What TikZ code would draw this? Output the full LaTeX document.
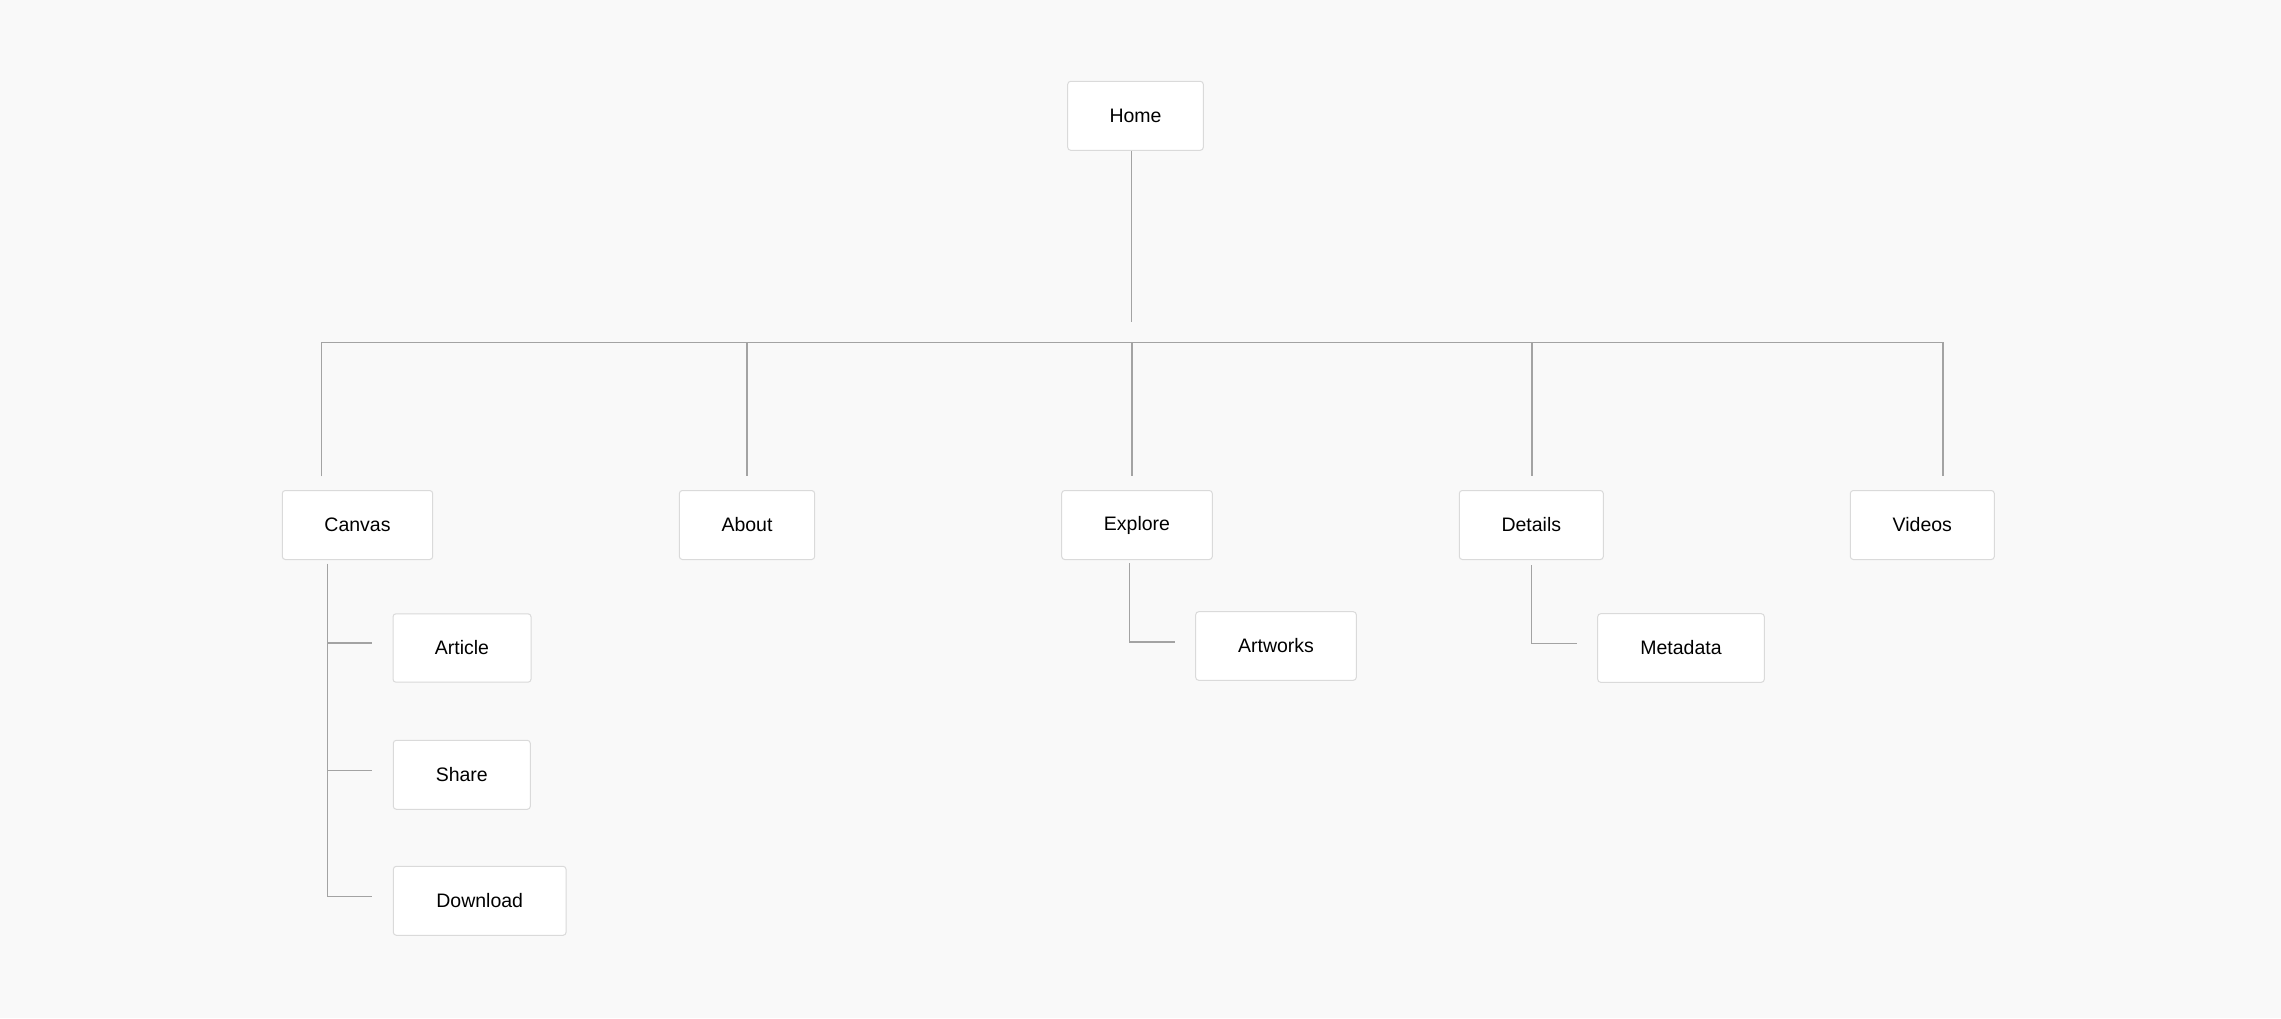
\documentclass[tikz,border=0pt]{standalone}
\usepackage{fontspec}
\setmainfont{Liberation Sans}
\definecolor{bg}{HTML}{F9F9F9}
\definecolor{boxline}{HTML}{DADADA}
\definecolor{conn}{HTML}{A3A3A3}
\begin{document}
\begin{tikzpicture}[x=1pt,y=-1pt,
  page/.style={draw=boxline, line width=1pt, fill=white, rounded corners=3pt,
    minimum height=69pt, inner sep=0pt, font=\fontsize{19.5}{22}\selectfont, text=black},
  link/.style={draw=conn, line width=1.5pt}]
\fill[bg] (0,0) rectangle (2281,1018);
\useasboundingbox (0,0) rectangle (2281,1018);
% nodes
\node[page, minimum width=135.6pt] (home) at (1135.5,115.8) {Home};
\node[page, minimum width=150.4pt] (canvas) at (357.5,525) {Canvas};
\node[page, minimum width=135.3pt] (about) at (747,525) {About};
\node[page, minimum width=150.6pt] (explore) at (1137,525) {Explore};
\node[page, minimum width=144pt] (details) at (1531.3,525) {Details};
\node[page, minimum width=144pt] (videos) at (1922.3,525) {Videos};
\node[page, minimum width=138pt, minimum height=68.4pt] (article) at (462,648) {Article};
\node[page, minimum width=137pt] (share) at (461.8,774.8) {Share};
\node[page, minimum width=172.7pt] (download) at (479.7,900.8) {Download};
\node[page, minimum width=160.6pt, minimum height=68.6pt] (artworks) at (1276,646) {Artworks};
\node[page, minimum width=166.6pt, minimum height=68.6pt] (metadata) at (1681,648) {Metadata};
% coordinates
\coordinate (stemtop) at (1131.7,151);
\coordinate (stembot) at (1131.7,321.5);
\coordinate (barL) at (321.3,342.7);
\coordinate (barR) at (1943,342.7);
\coordinate (dCanvas) at (321.3,476.3);
\coordinate (aAbout) at (747,342.7);
\coordinate (dAbout) at (747,476.3);
\coordinate (aExplore) at (1131.8,342.7);
\coordinate (dExplore) at (1131.8,476.3);
\coordinate (aDetails) at (1531.8,342.7);
\coordinate (dDetails) at (1531.8,476.3);
\coordinate (dVideos) at (1943,476.3);
\coordinate (cTop) at (327.3,563.5);
\coordinate (cArticle) at (372,643);
\coordinate (cShare) at (372,770.3);
\coordinate (cDownload) at (372,896.7);
\coordinate (eTop) at (1129.7,563.3);
\coordinate (eEnd) at (1174.7,642);
\coordinate (tTop) at (1531.7,565.3);
\coordinate (tEnd) at (1576.7,643.7);
% connectors
\draw[link] (stemtop) -- (stembot);
\draw[link] (dCanvas) |- (barR) -- (dVideos);
\draw[link] (aAbout) -- (dAbout);
\draw[link] (aExplore) -- (dExplore);
\draw[link] (aDetails) -- (dDetails);
\draw[link] (cTop) |- (cDownload);
\draw[link] (cTop |- cArticle) -- (cArticle);
\draw[link] (cTop |- cShare) -- (cShare);
\draw[link] (eTop) |- (eEnd);
\draw[link] (tTop) |- (tEnd);
\end{tikzpicture}
\end{document}
